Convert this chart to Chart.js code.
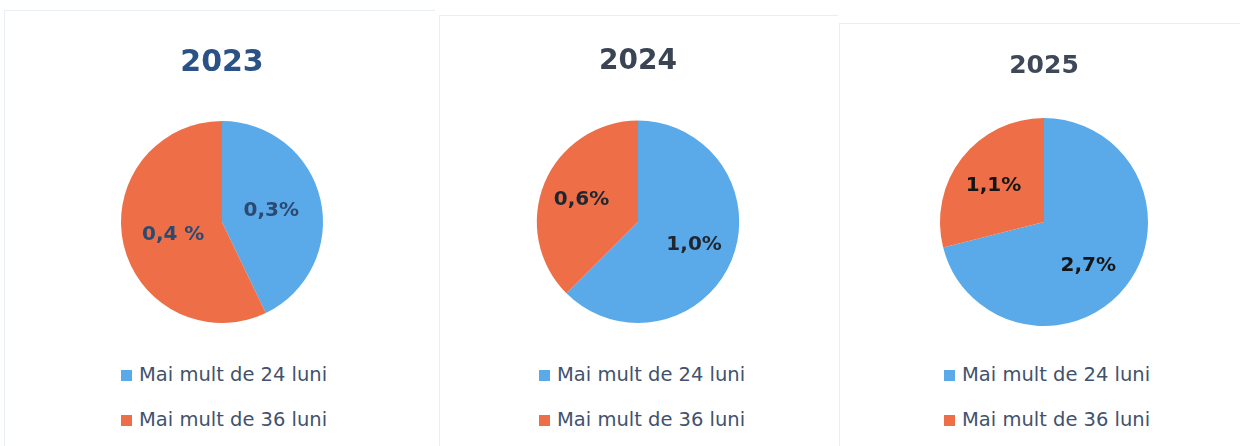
<!DOCTYPE html>
<html><head><meta charset="utf-8">
<script src="https://cdn.jsdelivr.net/npm/chart.js@4.4.1/dist/chart.umd.min.js"></script>
<style>
html,body{margin:0;padding:0;background:#fff;width:1240px;height:446px;overflow:hidden;position:relative}
.panel{position:absolute;border-top:1px solid #e9eef4;border-left:1px solid #e9eef4}
canvas{position:absolute}
.leg{position:absolute;font-family:'DejaVu Sans',sans-serif;font-size:19.5px;line-height:20px;color:#42526e;display:flex;align-items:center;white-space:nowrap}
.leg .b{width:11px;height:11px;margin-right:7px;display:inline-block}
</style></head>
<body>
<div class="panel" style="left:4px;top:10px;width:430px;height:436px"></div>
<div class="panel" style="left:439px;top:15px;width:398px;height:431px"></div>
<div class="panel" style="left:839px;top:23px;width:401px;height:423px"></div>
<canvas id="c1" width="300" height="303" style="left:72px;top:20px"></canvas>
<canvas id="c2" width="300" height="303" style="left:488px;top:20px"></canvas>
<canvas id="c3" width="300" height="306" style="left:894px;top:20px"></canvas>
<script>
const categories = ['Mai mult de 24 luni', 'Mai mult de 36 luni'];
const years = ['2023', '2024', '2025'];
const values2023 = [0.3, 0.4];
const values2024 = [1.0, 0.6];
const values2025 = [2.7, 1.1];
const labels2023 = ['0,3%', '0,4 %'];
const labels2024 = ['1,0%', '0,6%'];
const labels2025 = ['2,7%', '1,1%'];
const sliceColors = ['#5aaaea', '#ee6f47'];

const sliceLabels = {
  id: 'sliceLabels',
  afterDatasetsDraw(chart, args, opts) {
    const ctx = chart.ctx;
    const meta = chart.getDatasetMeta(0);
    meta.data.forEach((arc, i) => {
      const p = arc.getProps(['x', 'y', 'startAngle', 'endAngle', 'outerRadius'], true);
      const mid = (p.startAngle + p.endAngle) / 2 + (opts.shift ? opts.shift[i] : 0) * Math.PI / 180;
      const r = p.outerRadius * opts.radius;
      ctx.save();
      ctx.font = opts.font;
      ctx.fillStyle = opts.color;
      ctx.textAlign = 'center';
      ctx.textBaseline = 'middle';
      ctx.fillText(opts.texts[i], p.x + Math.cos(mid) * r, p.y + Math.sin(mid) * r);
      ctx.restore();
    });
  }
};

const setups = [
  {id: 'c1', year: years[0], values: values2023, texts: labels2023, tSize: 30, tTop: 25, tBottom: 40, tColor: '#2a5286', lColor: '#2c4a70', lr: 0.5, shift: [0, -2], legLeft: 121},
  {id: 'c2', year: years[1], values: values2024, texts: labels2024, tSize: 28, tTop: 25, tBottom: 42, tColor: '#3a4455', lColor: '#1f2630', lr: 0.6, shift: [0, -1], legLeft: 539},
  {id: 'c3', year: years[2], values: values2025, texts: labels2025, tSize: 25, tTop: 31, tBottom: 37, tColor: '#3e4858', lColor: '#151515', lr: 0.6, shift: [7, -2], legLeft: 944}
];

setups.forEach(s => {
  new Chart(document.getElementById(s.id), {
    type: 'pie',
    data: {
      labels: categories,
      datasets: [{data: s.values, backgroundColor: sliceColors, borderWidth: 0, hoverOffset: 0}]
    },
    options: {
      responsive: false,
      animation: false,
      layout: {padding: 0},
      plugins: {
        legend: {display: false},
        tooltip: {enabled: false},
        title: {
          display: true, text: s.year, color: s.tColor,
          font: {family: 'DejaVu Sans', weight: 'bold', size: s.tSize, lineHeight: 1.2},
          padding: {top: s.tTop, bottom: s.tBottom}
        },
        sliceLabels: {texts: s.texts, color: s.lColor, radius: s.lr, shift: s.shift, font: 'bold 20px "DejaVu Sans"'}
      }
    },
    plugins: [sliceLabels]
  });
  categories.forEach((c, i) => {
    const d = document.createElement('div');
    d.className = 'leg';
    d.style.left = s.legLeft + 'px';
    d.style.top = (365 + i * 45) + 'px';
    const b = document.createElement('span');
    b.className = 'b';
    b.style.background = sliceColors[i];
    d.appendChild(b);
    d.appendChild(document.createTextNode(c));
    document.body.appendChild(d);
  });
});
</script>
</body></html>
